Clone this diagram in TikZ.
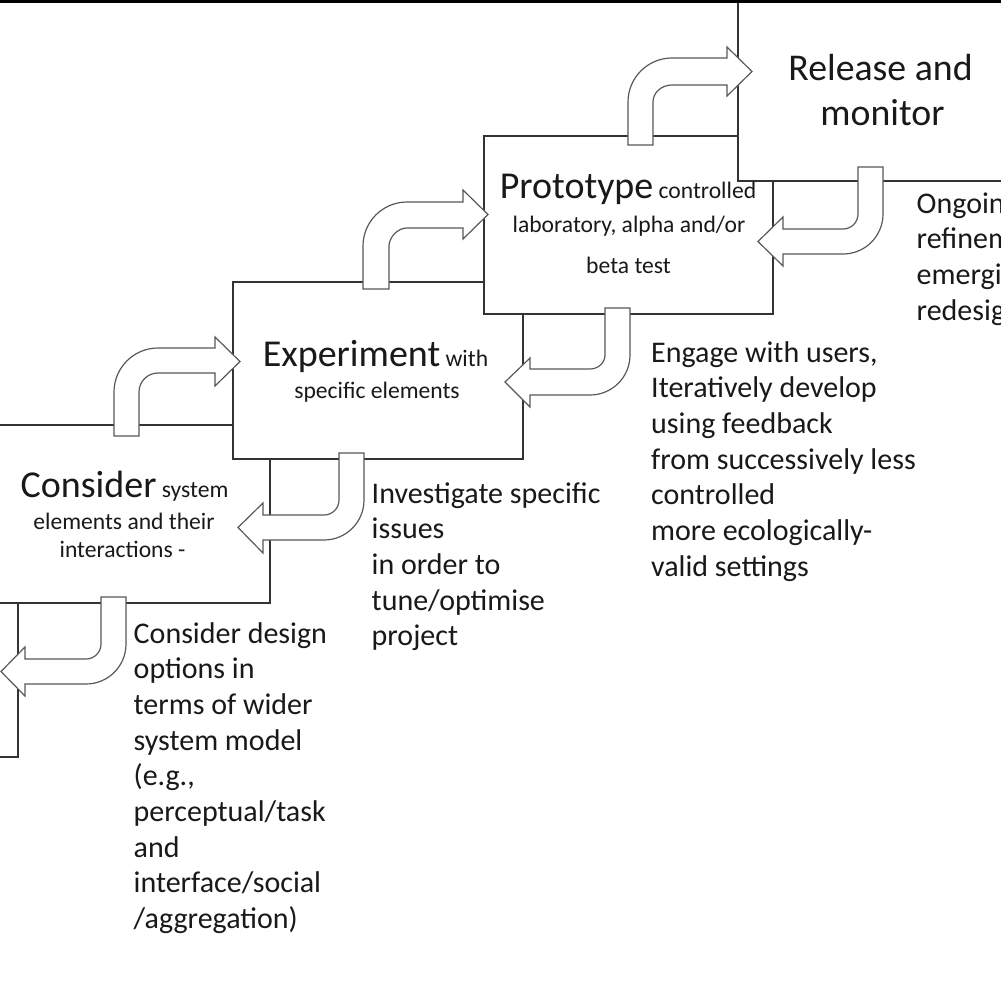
\documentclass[tikz,border=0pt]{standalone}
\usepackage{fontspec}
\setmainfont{Carlito}
\newcommand\bgfont{\fontsize{38}{45}\selectfont}
\newcommand\smfont{\fontsize{23.6}{28}\selectfont}
\begin{document}
\begin{tikzpicture}[x=1pt,y=-1pt,
  box/.style={draw=black!80, line width=1.5pt, fill=white, inner sep=0pt, anchor=north west},
  barrow/.style={draw=black!65, line width=1.2pt, fill=white, line join=miter},
  txt/.style={inner sep=0pt, text=black!90},
  ann/.style={txt, anchor=base west, font=\fontsize{30}{36}\selectfont},
  boxtext/.style={txt, anchor=base},
]
\useasboundingbox (0,0) rectangle (1001,991);
\fill[white] (0,0) rectangle (1001,991);
\clip (0,0) rectangle (1001,991);

% boxes (later ones lie on top)
\node[box, minimum width=290pt, minimum height=154pt] (nextbox) at (-273,602) {};
\node[box, minimum width=290pt, minimum height=178pt] (consider) at (-21,424) {};
\node[box, minimum width=290pt, minimum height=177pt] (experiment) at (232,281) {};
\node[box, minimum width=289pt, minimum height=178pt] (prototype) at (483,135) {};
\node[box, minimum width=400pt, minimum height=240pt] (release) at (737,-60) {};

% box texts
\node[boxtext, font=\fontsize{37.8}{45}\selectfont] (rel1) at (880.5,80) {Release and};
\node[boxtext, font=\fontsize{37.8}{45}\selectfont] (rel2) at (882.5,125) {monitor};
\node[boxtext] (pro1) at (628,198) {\bgfont Prototype\smfont{} controlled};
\node[boxtext, font=\smfont] (pro2) at (629,232) {laboratory, alpha and/or};
\node[boxtext, font=\smfont] (pro3) at (628.5,273) {beta test};
\node[boxtext] (exp1) at (375.5,366) {\bgfont Experiment\smfont{} with};
\node[boxtext, font=\smfont] (exp2) at (377,398) {specific elements};
\node[boxtext] (con1) at (124.5,497) {\bgfont Consider\smfont{} system};
\node[boxtext, font=\smfont] (con2) at (124,529) {elements and their};
\node[boxtext, font=\smfont] (con3) at (122.5,557) {interactions -};

% up-right bent arrows
\draw[barrow] (114,436) -- (114,392) .. controls (114,367.7) and (133.7,348) .. (158,348)
  -- (215,348) -- (215,337) -- (240,361.5) -- (215,386) -- (215,373) -- (158,373)
  .. controls (147.5,373) and (139,381.5) .. (139,392) -- (139,436) -- cycle;
\draw[barrow] (363,289) -- (363,246) .. controls (363,221.7) and (382.7,202) .. (407,202)
  -- (463,202) -- (463,190) -- (488,214.5) -- (463,239) -- (463,228) -- (407,228)
  .. controls (397.1,228) and (389,237.9) .. (389,246) -- (389,289) -- cycle;
\draw[barrow] (628,145) -- (628,102) .. controls (628,77.7) and (647.7,58) .. (672,58)
  -- (727,58) -- (727,47) -- (752,71.5) -- (727,96) -- (727,85) -- (672,85)
  .. controls (661.5,85) and (653,92.6) .. (653,102) -- (653,145) -- cycle;

% down-left bent arrows
\draw[barrow] (858,167) -- (883,167) -- (883,214) .. controls (883,236.1) and (865.1,254) .. (843,254)
  -- (783,254) -- (783,266) -- (758,241.5) -- (783,217) -- (783,229) -- (843,229)
  .. controls (851.3,229) and (858,222.3) .. (858,214) -- cycle;
\draw[barrow] (605,308) -- (630,308) -- (630,355) .. controls (630,377.1) and (612.1,395) .. (590,395)
  -- (530,395) -- (530,407) -- (505,382) -- (530,358) -- (530,369) -- (590,369)
  .. controls (598.3,369) and (605,362.7) .. (605,355) -- cycle;
\draw[barrow] (339,453) -- (364,453) -- (364,500) .. controls (364,522.1) and (346.1,540) .. (324,540)
  -- (263,540) -- (263,553) -- (238,527.5) -- (263,503) -- (263,515) -- (324,515)
  .. controls (332.3,515) and (339,508.3) .. (339,500) -- cycle;
\draw[barrow] (101,597) -- (126,597) -- (126,644) .. controls (126,666.1) and (108.1,684) .. (86,684)
  -- (25,684) -- (25,696) -- (1,671.5) -- (25,647) -- (25,659) -- (86,659)
  .. controls (94.3,659) and (101,652.3) .. (101,644) -- cycle;

% annotations
\foreach \t [count=\i] in {Ongoing,refinement,emerging,redesign}
  \node[ann] (ong\i) at (916.5,{213+35.7*(\i-1)}) {\t};
\foreach \t [count=\i] in {{Engage with users,},{Iteratively develop},{using feedback},{from successively less},{controlled},{more ecologically-},{valid settings}}
  \node[ann] (eng\i) at (651,{362+35.7*(\i-1)}) {\t};
\foreach \t [count=\i] in {{Investigate specific},{issues},{in order to},{tune/optimise},{project}}
  \node[ann] (inv\i) at (371.5,{503+35.7*(\i-1)}) {\t};
\foreach \t [count=\i] in {{Consider design},{options in},{terms of wider},{system model},{(e.g.,},{perceptual/task},{and},{interface/social},{/aggregation)}}
  \node[ann] (cdo\i) at (133.5,{643+35.7*(\i-1)}) {\t};

% top border
\draw[line width=3.5pt] (0,1.5) -- (1001,1.5);
\end{tikzpicture}
\end{document}
